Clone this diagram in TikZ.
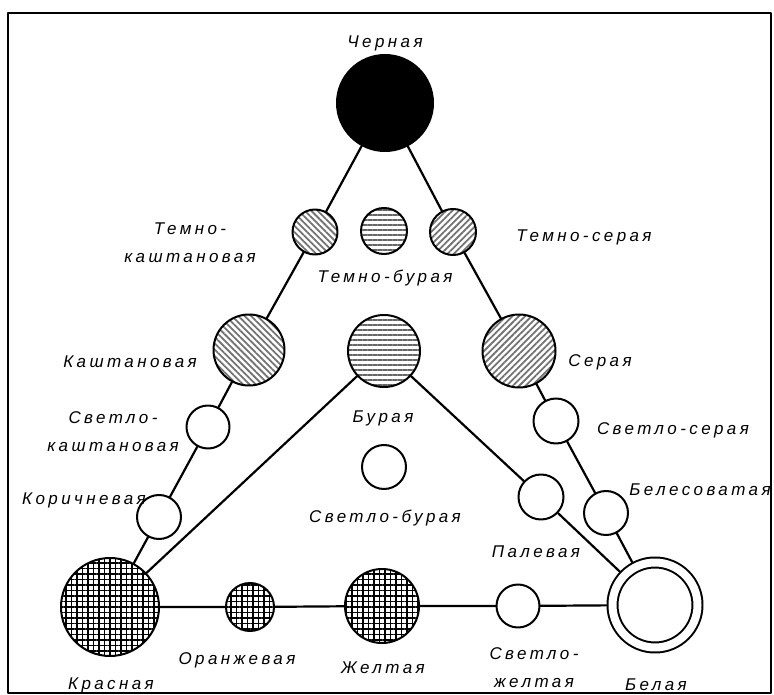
\documentclass[tikz,border=0pt]{standalone}
\usepackage{fontspec}
\setmainfont{Liberation Sans}[LetterSpace=20]
\usetikzlibrary{patterns.meta}
\begin{document}
\begin{tikzpicture}[x=1pt, y=-1pt, line cap=round, line join=round,
    soil/.style={circle, draw, line width=2pt, inner sep=0pt, fill=white},
    ring/.style={circle, draw, line width=2pt, double, double distance=8pt, inner sep=0pt, minimum size=85pt, outer sep=6pt},
    slant/.style={pattern={Lines[angle=-45,distance=4.5pt,line width=1.8pt]}, pattern color=black!55},
    rslant/.style={pattern={Lines[angle=45,distance=4.5pt,line width=1.8pt]}, pattern color=black!55},
    flat/.style={pattern={Lines[angle=0,distance=5pt,line width=2pt]}, pattern color=black!60},
    mesh/.style={pattern={Hatch[distance=5.5pt,line width=1.3pt]}, pattern color=black},
    link/.style={line width=2.2pt},
    lab/.style={font=\itshape\fontsize{17}{28}\selectfont, align=center, inner sep=0pt}]
    \useasboundingbox (0,0) rectangle (774,695);
    \draw[line width=2pt] (8,13) rectangle (771,693);
    \node[soil, fill=black, minimum size=96pt] (cher) at (385,103) {};
    \node[soil, slant, minimum size=45pt] (tkash) at (315,232) {};
    \node[soil, flat, minimum size=46pt] (tbur) at (384,231) {};
    \node[soil, rslant, minimum size=46pt] (tser) at (453,232) {};
    \node[soil, slant, minimum size=71pt] (kash) at (249,350) {};
    \node[soil, flat, minimum size=72pt] (bur) at (384,351) {};
    \node[soil, rslant, minimum size=73pt] (ser) at (519,351) {};
    \node[soil, minimum size=43pt] (skash) at (208,427) {};
    \node[soil, minimum size=45pt] (sser) at (556,421) {};
    \node[soil, minimum size=44pt] (sbur) at (384,467) {};
    \node[soil, minimum size=44pt] (kor) at (159,517) {};
    \node[soil, minimum size=45pt] (pal) at (541,497) {};
    \node[soil, minimum size=44pt] (bels) at (606,513) {};
    \node[soil, mesh, minimum size=98pt] (kras) at (110,607) {};
    \node[soil, mesh, minimum size=48pt] (oran) at (250,607) {};
    \node[soil, mesh, minimum size=74pt] (zhel) at (382,606) {};
    \node[soil, minimum size=43pt] (szhel) at (518,606) {};
    \node[ring] (bel) at (655,605) {};
    \draw[link] (cher) -- (tkash) -- (kash) -- (skash) -- (kor) -- (kras);
    \draw[link] (cher) -- (tser) -- (ser) -- (sser) -- (bels) -- (bel);
    \draw[link] (kras) -- (bur) -- (pal) -- (bel);
    \draw[link] (kras) -- (oran) -- (zhel) -- (szhel) -- (bel);
    \node[lab] (cherL) at (385,43) {Черная};
    \node[lab] (tkashL) at (190,243) {Темно-\\каштановая};
    \node[lab] (tburL) at (385,278) {Темно-бурая};
    \node[lab] (tserL) at (584,237) {Темно-серая};
    \node[lab] (kashL) at (130,362) {Каштановая};
    \node[lab] (burL) at (383,418) {Бурая};
    \node[lab] (serL) at (600,362) {Серая};
    \node[lab] (skashL) at (113,432) {Светло-\\каштановая};
    \node[lab] (sserL) at (673,430) {Светло-серая};
    \node[lab] (sburL) at (385,518) {Светло-бурая};
    \node[lab] (korL) at (84,500) {Коричневая};
    \node[lab] (belsL) at (700,490) {Белесоватая};
    \node[lab] (palL) at (536,552) {Палевая};
    \node[lab] (krasL) at (111,685) {Красная};
    \node[lab] (oranL) at (237,660) {Оранжевая};
    \node[lab] (zhelL) at (383,668) {Желтая};
    \node[lab] (szhelL) at (534,668) {Светло-\\желтая};
    \node[lab] (belL) at (656,685) {Белая};
\end{tikzpicture}
\end{document}
